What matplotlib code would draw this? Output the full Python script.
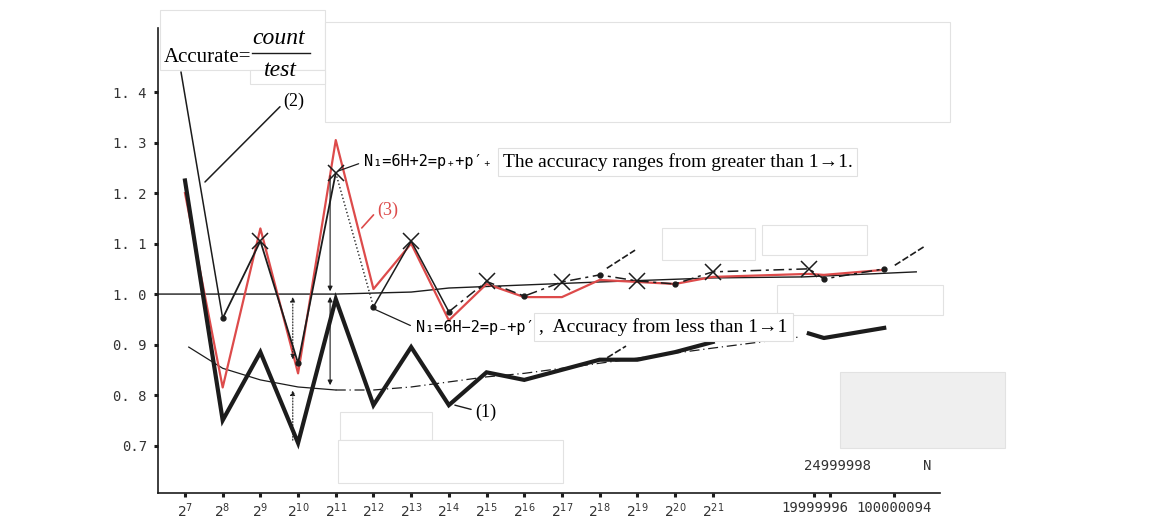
import matplotlib.pyplot as plt
from matplotlib.patches import Rectangle

SERIF = 'Liberation Serif'
MONO = ['DejaVu Sans Mono', 'DejaVu Sans']
W, H = 1159, 521

# x categories: powers of two, then the large N values
exponents = [7, 8, 9, 10, 11, 12, 13, 14, 15, 16, 17, 18, 19, 20, 21]
big_n_labels = ['19999996', '', '100000094']
big_n_ticks = [16.7, 17.1, 18.8]
x_pts = list(range(15)) + [16.55, 16.95, 18.55]

# (1) thick black curve
acc_1 = [1.225, 0.75, 0.885, 0.705, 0.99, 0.78, 0.895, 0.78, 0.845, 0.83,
         0.85, 0.87, 0.87, 0.885, 0.905, 0.922, 0.913, 0.933]
# (2) thin black curve with markers (starts at 2^8)
acc_2 = [None, 0.952, 1.105, 0.863, 1.24, 0.975, 1.105, 0.965, 1.025, 0.996,
         1.024, 1.038, 1.026, 1.02, 1.044, 1.05, 1.03, 1.05]
# (3) red curve
acc_3 = [1.2, 0.815, 1.13, 0.843, 1.305, 1.01, 1.1, 0.948, 1.02, 0.994,
         0.994, 1.028, 1.024, 1.02, 1.034, 1.04, 1.038, 1.048]

# hand drawn trend lines
upper_x = [-0.7, 4, 6, 7, 11, 14, 16.4, 19.4]
upper_y = [1.0, 1.0, 1.004, 1.012, 1.024, 1.032, 1.034, 1.044]
lower_x = [0.1, 1, 2, 3, 4, 5, 6, 7, 8, 9, 11, 14, 16.3]
lower_y = [0.895, 0.853, 0.83, 0.816, 0.81, 0.81, 0.816, 0.826, 0.836,
           0.843, 0.863, 0.893, 0.915]

BLACK = '#1c1c1c'
RED = '#dd4b4b'


def fig_xy(px, py):
    """Pixel position (from top-left) -> figure fraction."""
    return px / W, 1 - py / H


fig = plt.figure(figsize=(W / 100, H / 100), dpi=100)
ax = fig.add_axes([158 / W, 28 / H, 782 / W, 465 / H])
ax.set_xlim(-0.716, 20.03)
ax.set_ylim(0.606, 1.527)

# faint pasted-paper patches of the scan (drawn behind the axes)
for (x0, y0, w, h, fc) in [(160, 10, 165, 60, 'white'), (325, 22, 625, 100, 'white'),
                           (340, 412, 92, 28, 'white'), (338, 440, 225, 43, 'white'),
                           (662, 228, 93, 32, 'white'), (762, 225, 105, 30, 'white'),
                           (840, 372, 165, 76, '#efefef'), (777, 285, 166, 30, 'white'),
                           (250, 70, 75, 14, 'white')]:
    fig.patches.append(Rectangle(fig_xy(x0, y0 + h), w / W, h / H,
                                 transform=fig.transFigure, facecolor=fc,
                                 edgecolor='#e2e2e2', lw=0.8, zorder=-1))
ax.patch.set_alpha(0)

# trend lines
ax.plot(upper_x, upper_y, color=BLACK, lw=1.0)
ax.plot(lower_x[:5], lower_y[:5], color=BLACK, lw=0.9)
ax.plot(lower_x[4:], lower_y[4:], color=BLACK, lw=0.9, ls=(0, (8, 3, 1, 3)))

# (3) red
ax.plot(x_pts, acc_3, color=RED, lw=1.6)

# (1) thick black, broken before the large N values
ax.plot(x_pts[:15], acc_1[:15], color=BLACK, lw=3.0, solid_joinstyle='miter')
ax.plot(x_pts[15:], acc_1[15:], color=BLACK, lw=3.0)

# (2) thin black: solid, dotted, solid, dashed pieces
ax.plot(x_pts[1:5], acc_2[1:5], color=BLACK, lw=1.3)
ax.plot(x_pts[4:6], acc_2[4:6], color=BLACK, lw=1.0, ls=':')
ax.plot(x_pts[5:8], acc_2[5:8], color=BLACK, lw=1.1)
ax.plot(x_pts[7:], acc_2[7:], color=BLACK, lw=1.1, ls=(0, (7, 3, 2, 3)))
crosses = [i for i, e in enumerate(exponents) if e % 2 == 1] + [15]
dots = [i for i in range(1, len(x_pts)) if i not in crosses]
ax.plot([x_pts[i] for i in crosses], [acc_2[i] for i in crosses], 'x',
        color=BLACK, ms=11, mew=1.1)
ax.plot([x_pts[i] for i in dots], [acc_2[i] for i in dots], 'o',
        color=BLACK, ms=3.5)

# vertical gap arrows at 2^10 and 2^11
arrow_kw = dict(lw=0.8, color=BLACK)
ax.annotate('', xy=(2.86, 1.0), xytext=(2.86, 0.865),
            arrowprops=dict(arrowstyle='<|-|>', ls=':', mutation_scale=7, **arrow_kw))
ax.annotate('', xy=(2.86, 0.815), xytext=(2.86, 0.705),
            arrowprops=dict(arrowstyle='-|>', ls=':', mutation_scale=7, **arrow_kw))
ax.annotate('', xy=(3.85, 1.0), xytext=(3.85, 0.814),
            arrowprops=dict(arrowstyle='<|-|>', mutation_scale=7, **arrow_kw))
ax.annotate('', xy=(3.85, 1.0), xytext=(3.85, 1.24),
            arrowprops=dict(arrowstyle='-|>', mutation_scale=7, **arrow_kw))

# small pointer strokes
for (xa, ya, xb, yb) in [(11.19, 1.051, 11.94, 1.087), (18.83, 1.057, 19.63, 1.095),
                         (11.2, 0.874, 11.7, 0.897)]:
    ax.plot([xa, xb], [ya, yb], color=BLACK, lw=1.2, ls=(0, (4, 1.5)))

# "Accurate = count / test" formula, drawn as a real fraction
fig.text(*fig_xy(164, 57), 'Accurate=', fontsize=15, family=SERIF, va='center', ha='left')
fig.text(*fig_xy(279, 39), 'count', fontsize=17, family=SERIF, style='italic',
         va='center', ha='center')
fig.text(*fig_xy(280, 71), 'test', fontsize=17, family=SERIF, style='italic',
         va='center', ha='center')
fig.add_artist(plt.Line2D([252 / W, 310 / W], [1 - 53 / H, 1 - 53 / H],
                          transform=fig.transFigure, color=BLACK, lw=1.0))
ax.annotate('', xy=(1.0, 0.952), xytext=(181, H - 72), textcoords='figure pixels',
            arrowprops=dict(arrowstyle='-', lw=1.1, color=BLACK, shrinkA=0, shrinkB=2))

# annotations
ax.annotate('(2)', xy=(0.53, 1.222), xytext=(2.62, 1.382), fontsize=13, family=SERIF,
            va='center', ha='left',
            arrowprops=dict(arrowstyle='-', lw=1.1, color=BLACK, relpos=(0, 0.4),
                            shrinkA=1, shrinkB=0))
ax.annotate('N₁=6H+2=p₊+p′₊', xy=(4.0, 1.242), xytext=(4.75, 1.262), fontsize=11,
            family=MONO, va='center', ha='left',
            arrowprops=dict(arrowstyle='-', lw=0.9, color=BLACK, relpos=(0, 0.5),
                            shrinkA=2, shrinkB=2))
ax.text(8.43, 1.262, 'The accuracy ranges from greater than 1→1.', fontsize=14,
        family=[SERIF, 'DejaVu Sans'], va='center', ha='left',
        bbox=dict(boxstyle='square,pad=0.25', fc='white', ec='#e0e0e0', lw=0.8))
ax.annotate('(3)', xy=(4.69, 1.131), xytext=(5.1, 1.165), fontsize=13, family=SERIF,
            color=RED, va='center', ha='left',
            arrowprops=dict(arrowstyle='-', lw=1.2, color=RED, relpos=(0, 0.5),
                            shrinkA=1, shrinkB=0))
ax.annotate('N₁=6H−2=p₋+p′₋', xy=(4.91, 0.974), xytext=(6.12, 0.933), fontsize=11,
            family=MONO, va='center', ha='left',
            arrowprops=dict(arrowstyle='-', lw=0.9, color=BLACK, relpos=(0, 0.5),
                            shrinkA=2, shrinkB=2))
ax.text(9.4, 0.935, ',  Accuracy from less than 1→1', fontsize=14,
        family=[SERIF, 'DejaVu Sans'], va='center', ha='left',
        bbox=dict(boxstyle='square,pad=0.25', fc='white', ec='#e0e0e0', lw=0.8))
ax.annotate('(1)', xy=(7.16, 0.78), xytext=(7.7, 0.766), fontsize=13, family=SERIF,
            va='center', ha='left',
            arrowprops=dict(arrowstyle='-', lw=1.0, color=BLACK, relpos=(0, 0.6),
                            shrinkA=1, shrinkB=0))
ax.text(17.3, 0.66, '24999998', fontsize=10, family=MONO, ha='center', va='center',
        color='#333333')
ax.text(19.7, 0.66, 'N', fontsize=10, family=MONO, ha='center', va='center',
        color='#333333')

# axes styling
for side in ['top', 'right']:
    ax.spines[side].set_visible(False)
for side in ['left', 'bottom']:
    ax.spines[side].set_color(BLACK)
    ax.spines[side].set_linewidth(1.2)

y_ticks = [0.7, 0.8, 0.9, 1.0, 1.1, 1.2, 1.3, 1.4]
ax.set_yticks(y_ticks)
ax.set_yticklabels(['0.7'] + ['{:.1f}'.format(v).replace('.', '. ') for v in y_ticks[1:]],
                   family=MONO, fontsize=10, color='#333333')
ax.tick_params(axis='y', length=3, width=2.2, pad=5, color=BLACK)

ax.set_xticks(list(range(15)) + big_n_ticks)
ax.set_xticklabels(['$2^{%d}$' % e for e in exponents] + big_n_labels,
                   fontsize=10, color='#333333')
for lbl in ax.get_xticklabels()[15:]:
    lbl.set_family(MONO)
    lbl.set_fontsize(10)
ax.tick_params(axis='x', length=3, width=2.2, pad=3, color=BLACK)

fig.savefig('out.png', dpi=100)
